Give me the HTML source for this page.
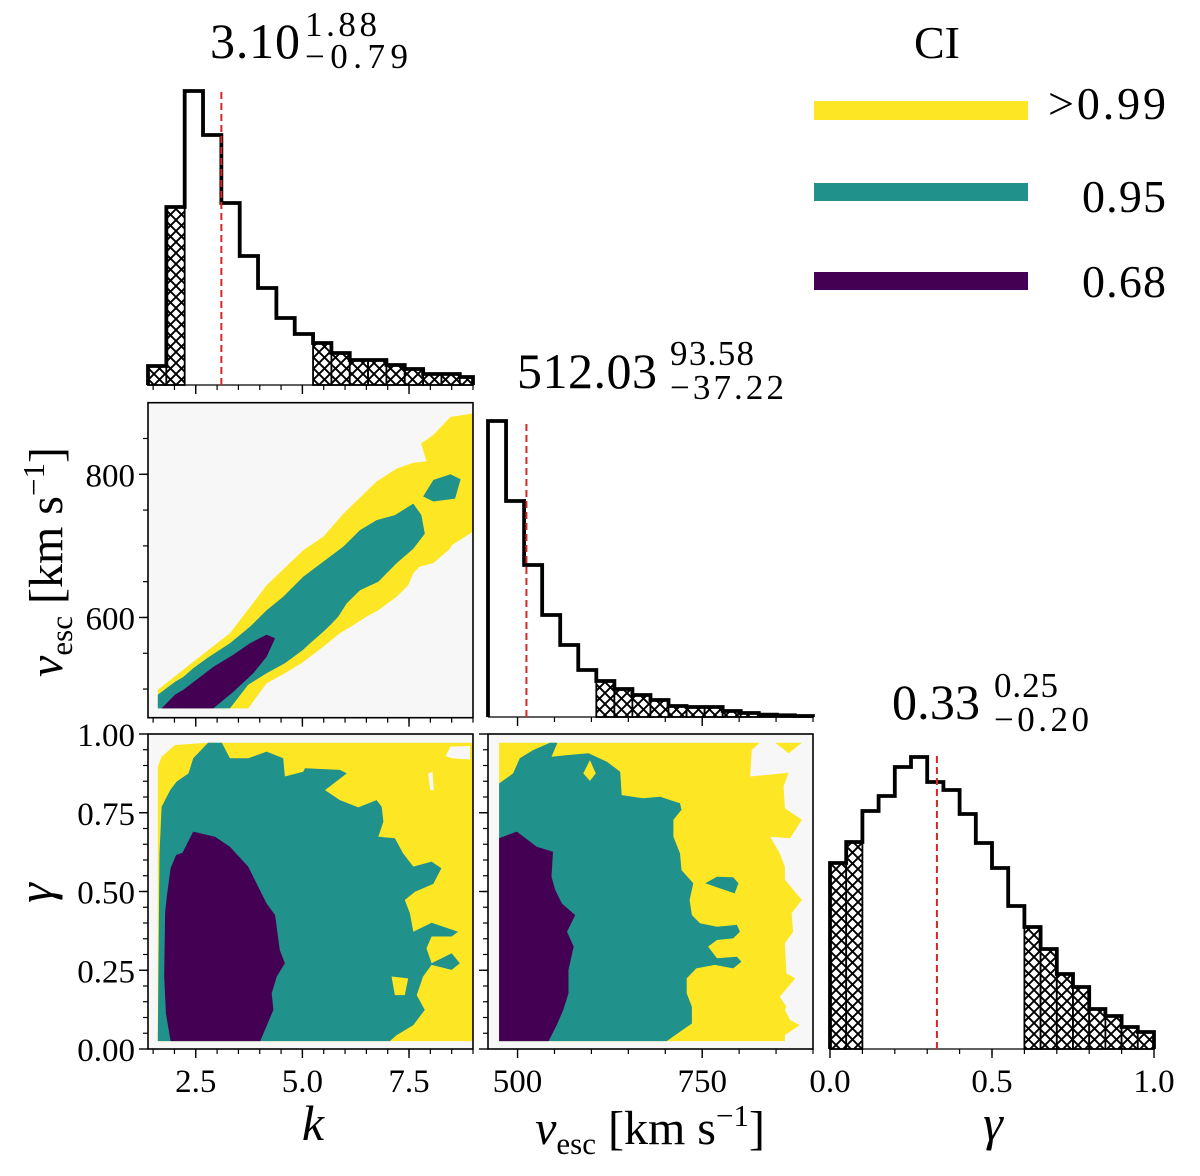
<!DOCTYPE html>
<html><head><meta charset="utf-8"><style>
html,body{margin:0;padding:0;background:#fff;}
svg{display:block;font-family:"Liberation Serif",serif;}
</style></head><body>
<svg id="fig" width="1200" height="1176" viewBox="0 0 1200 1176" xmlns="http://www.w3.org/2000/svg">
<defs>
<pattern id="hatch" patternUnits="userSpaceOnUse" width="11" height="11">
<rect width="11" height="11" fill="#fff"/>
<path d="M0,0 L11,11 M11,0 L0,11 M-1,10 L1,12 M10,-1 L12,1" stroke="#000" stroke-width="1.9"/>
</pattern>
<clipPath id="clipVK"><rect x="148" y="402.7" width="325" height="315"/></clipPath>
<clipPath id="clipGK"><rect x="148" y="734" width="325" height="315"/></clipPath>
<clipPath id="clipGV"><rect x="488" y="734" width="325" height="315"/></clipPath>
</defs>
<g id="layer"></g>

<!-- titles -->
<g font-size="50">
<text x="210" y="58" textLength="90">3.10</text>
<text x="305" y="36" font-size="35" textLength="72">1.88</text>
<text x="305" y="68" font-size="35" textLength="103">−0.79</text>
</g>
<g font-size="50">
<text x="517" y="388" textLength="140">512.03</text>
<text x="670" y="365" font-size="35" textLength="84">93.58</text>
<text x="670" y="399" font-size="35" textLength="114">−37.22</text>
</g>
<g font-size="50">
<text x="892" y="719" textLength="88">0.33</text>
<text x="994" y="697" font-size="35" textLength="64">0.25</text>
<text x="994" y="731" font-size="35" textLength="95">−0.20</text>
</g>

<!-- legend -->
<g>
<text x="937" y="58" font-size="46" text-anchor="middle">CI</text>
<rect x="814" y="101" width="214" height="19" fill="#fde725"/>
<rect x="814" y="183" width="214" height="18" fill="#21918c"/>
<rect x="814" y="272" width="214" height="18" fill="#440154"/>
<text x="1048" y="119" font-size="46" textLength="118">&gt;0.99</text>
<text x="1082" y="212" font-size="46" textLength="84">0.95</text>
<text x="1082" y="297" font-size="46" textLength="84">0.68</text>
</g>

<!-- axis labels -->
<text transform="translate(62,562) rotate(-90)" text-anchor="middle" font-size="48"><tspan font-style="italic">v</tspan><tspan font-size="31" dy="10">esc</tspan><tspan dy="-10"> [km s</tspan><tspan font-size="31" dy="-18">−1</tspan><tspan dy="18">]</tspan></text>
<text transform="translate(52,893) rotate(-90)" text-anchor="middle" font-size="50" font-style="italic">γ</text>
<text x="313" y="1140" text-anchor="middle" font-size="50" font-style="italic">k</text>
<text x="650" y="1144" text-anchor="middle" font-size="48"><tspan font-style="italic">v</tspan><tspan font-size="31" dy="10">esc</tspan><tspan dy="-10"> [km s</tspan><tspan font-size="31" dy="-18">−1</tspan><tspan dy="18">]</tspan></text>
<text x="993" y="1140" text-anchor="middle" font-size="50" font-style="italic">γ</text>
</svg>
<script>
// ---------- data ----------
const kCounts = [19,178,294,250,182,129,97,67,51,42,32,25,25,20,16,11,11,8];
const kBinStart = 1.38, kBinWidth = 0.43;
const kMedian = 3.10, kLo = 0.79, kHi = 1.88;
const vCounts = [296,216,152,102,72,47,36,28,22,17,11,10,10,6,4,2.3,1.7,1];
const vBinStart = 460, vBinWidth = 24.44;
const vMedian = 512.03, vLo = 37.22, vHi = 93.58;
const gCounts = [186,207,238,253,282,292,267,259,235,206,181,143,122,100,75,62,40,33,22,17];
const gBinStart = 0, gBinWidth = 0.05;
const gMedian = 0.33, gLo = 0.20, gHi = 0.25;

const kTickLabels = ["2.5","5.0","7.5"];
const kMajor = [2.5,5.0,7.5];
const vTickLabels = ["500","750"];
const vMajor = [500,750];
const vYTickLabels = ["600","800"];
const vYMajor = [600,800];
const gYTickLabels = ["0.00","0.25","0.50","0.75","1.00"];
const gYMajor = [0,0.25,0.5,0.75,1.0];
const gXTickLabels = ["0.0","0.5","1.0"];
const gXMajor = [0,0.5,1.0];

// contour polygons (k, vesc)
const vkYellow = [[1.61,473],[1.61,499],[2.44,538],[3.30,578],[4.16,645],[5.02,694],[5.49,713],[5.96,745],[6.74,790],[7.21,808],[7.60,816],[7.91,818],[7.78,843],[8.07,855],[8.47,880],[9.0,885],[9.0,720],[8.50,701],[8.46,696],[8.07,676],[7.75,671],[7.60,662],[7.48,645],[7.21,629],[6.78,610],[6.50,601],[6.19,589],[5.88,578],[5.49,559],[5.18,545],[4.98,536],[4.59,522],[4.16,508],[3.73,473]];
const vkTeal = [[1.61,473],[1.61,492],[2.01,510],[2.21,517],[2.44,529],[2.76,543],[3.30,564],[3.77,587],[4.16,610],[4.55,629],[5.02,657],[5.49,678],[5.96,699],[6.35,722],[6.74,736],[7.17,743],[7.60,759],[7.79,743],[7.87,717],[7.60,696],[7.21,676],[6.78,650],[6.35,638],[6.04,620],[5.84,601],[5.65,589],[5.49,580],[5.18,564],[5.02,555],[4.59,536],[4.16,522],[3.73,506],[3.30,473]];
const vkTealIsland = [[7.83,769],[8.07,792],[8.47,800],[8.71,793],[8.58,766],[8.07,762]];
const vkPurple = [[1.70,473],[2.01,492],[2.21,499],[2.91,531],[3.38,548],[3.77,564],[4.16,576],[4.36,571],[4.16,545],[3.85,522],[3.38,496],[2.91,473]];
// (k, gamma)
const gkYellow = [[1.61,0.025],[1.61,0.896],[1.70,0.928],[2.01,0.965],[2.76,0.972],[9.0,0.972],[9.0,0.025]];
const gkHole1 = [[8.36,0.930],[8.47,0.960],[8.93,0.962],[8.93,0.919],[8.50,0.923]];
const gkHole2 = [[7.95,0.875],[8.05,0.880],[8.08,0.822],[8.00,0.822]];
const gkTeal = [[1.61,0.025],[1.65,0.621],[1.70,0.769],[1.90,0.822],[2.05,0.849],[2.33,0.875],[2.44,0.923],[2.79,0.972],[3.11,0.972],[3.30,0.923],[3.73,0.923],[4.16,0.944],[4.55,0.923],[4.59,0.865],[5.02,0.880],[5.06,0.891],[5.88,0.886],[6.04,0.875],[5.53,0.822],[5.88,0.790],[6.31,0.767],[6.74,0.790],[6.86,0.769],[6.90,0.722],[6.78,0.674],[7.17,0.669],[7.36,0.621],[7.60,0.579],[8.03,0.595],[8.26,0.574],[8.07,0.524],[7.64,0.499],[7.40,0.473],[7.52,0.431],[7.60,0.372],[8.03,0.401],[8.65,0.372],[8.50,0.357],[8.03,0.357],[7.91,0.320],[8.03,0.272],[8.50,0.304],[8.69,0.272],[8.50,0.251],[8.03,0.267],[7.83,0.230],[7.68,0.171],[7.87,0.124],[7.60,0.076],[7.21,0.044],[7.05,0.025]];
const gkYellowHole = [[7.09,0.230],[7.48,0.224],[7.40,0.171],[7.17,0.171]];
const gkPurple = [[1.91,0.025],[1.80,0.113],[1.76,0.230],[1.78,0.431],[1.82,0.484],[1.91,0.574],[2.04,0.616],[2.19,0.623],[2.44,0.690],[2.95,0.674],[3.30,0.642],[3.73,0.579],[4.16,0.462],[4.36,0.425],[4.47,0.314],[4.59,0.272],[4.40,0.230],[4.28,0.177],[4.32,0.124],[4.01,0.025]];
// (vesc, gamma)
const gvYellow = [[475,0.025],[475,0.972],[828,0.972],[817,0.949],[815,0.865],[867,0.877],[860,0.833],[862,0.764],[885,0.728],[869,0.669],[842,0.674],[855,0.621],[862,0.579],[862,0.537],[885,0.473],[871,0.431],[873,0.372],[862,0.335],[864,0.240],[876,0.224],[855,0.166],[864,0.134],[862,0.124],[869,0.092],[882,0.076],[862,0.044],[862,0.025]];
const gvYellow2 = [[849,0.972],[885,0.972],[867,0.939]];
const gvTeal = [[475,0.025],[475,0.843],[494,0.875],[503,0.923],[521,0.949],[544,0.972],[554,0.972],[546,0.928],[567,0.933],[596,0.939],[621,0.912],[639,0.880],[641,0.806],[670,0.796],[693,0.801],[720,0.780],[722,0.759],[711,0.728],[711,0.674],[720,0.621],[722,0.568],[738,0.526],[733,0.473],[736,0.425],[747,0.399],[770,0.388],[797,0.394],[801,0.372],[792,0.351],[770,0.346],[758,0.325],[770,0.288],[797,0.293],[803,0.277],[792,0.256],[767,0.267],[742,0.256],[729,0.224],[729,0.177],[736,0.134],[736,0.081],[720,0.055],[702,0.025]];
const gvYellowHole = [[589,0.875],[598,0.917],[606,0.875],[598,0.851]];
const gvTealIsland = [[754,0.526],[770,0.547],[792,0.545],[799,0.526],[794,0.494]];
const gvPurple = [[475,0.025],[475,0.669],[499,0.690],[526,0.642],[548,0.626],[546,0.547],[551,0.505],[560,0.462],[578,0.425],[567,0.372],[576,0.325],[569,0.251],[569,0.177],[562,0.124],[553,0.076],[542,0.025]];

// ---------- scales ----------
const kx = k => 148 + (k - 1.38) * (325 / 7.62);
const vx = v => 488 + (v - 460) * (325 / 440);
const vy = v => 717.7 - (v - 460) * (315 / 440);
const gy = g => 1049 - g * 315;
const gx = g => 830 + g * 324;
const hScale = 1.0;

const NS = "http://www.w3.org/2000/svg";
const layer = document.getElementById("layer");
function mk(tag, attrs, parent) {
  const e = document.createElementNS(NS, tag);
  for (const a in attrs) e.setAttribute(a, attrs[a]);
  (parent || layer).appendChild(e);
  return e;
}
function poly(pts, fx, fy, fill, clip, name) {
  const e = mk("polygon", {points: pts.map(p => fx(p[0]).toFixed(1) + "," + fy(p[1]).toFixed(1)).join(" "), fill: fill, "clip-path": "url(#" + clip + ")"});
  
  
}
function frame(x, y, w, h, name) {
  const bg = mk("rect", {x: x, y: y, width: w, height: h, fill: "#f7f7f7"});
  
  
}
function border(x, y, w, h, name) {
  const r = mk("rect", {x: x, y: y, width: w, height: h, fill: "none", stroke: "#000", "stroke-width": 1.6});
  
  
}
function xTicks(fx, majors, minors, ybase, labels, name) {
  minors.forEach(v => {
    const t = mk("line", {x1: fx(v), x2: fx(v), y1: ybase, y2: ybase + 5, stroke: "#000", "stroke-width": 1.2});
    
    
  });
  majors.forEach((v, i) => {
    const t = mk("line", {x1: fx(v), x2: fx(v), y1: ybase, y2: ybase + 9, stroke: "#000", "stroke-width": 1.4});
    
    
    if (labels) {
      const tx = mk("text", {x: fx(v), y: ybase + 43, "text-anchor": "middle", "font-size": 33});
      tx.textContent = labels[i];
      
      
    }
  });
}
function yTicks(fy, majors, minors, xbase, labels, name) {
  minors.forEach(v => {
    const t = mk("line", {x1: xbase, x2: xbase - 5, y1: fy(v), y2: fy(v), stroke: "#000", "stroke-width": 1.2});
    
    
  });
  majors.forEach((v, i) => {
    const t = mk("line", {x1: xbase, x2: xbase - 9, y1: fy(v), y2: fy(v), stroke: "#000", "stroke-width": 1.4});
    
    
    if (labels) {
      const tx = mk("text", {x: xbase - 13, y: fy(v) + 12, "text-anchor": "end", "font-size": 33});
      tx.textContent = labels[i];
      
      
    }
  });
}
function range(a, b, s) { const r = []; for (let v = a; v <= b + 1e-9; v += s) r.push(+v.toFixed(4)); return r; }

function hist(counts, start, width, fx, base, xmax, med, lo, hi, name) {
  const loC = med - lo, hiC = med + hi;
  let d = "";
  counts.forEach((c, i) => {
    const a = start + i * width, b = Math.min(start + (i + 1) * width, xmax);
    const x0 = fx(a), x1 = fx(b), y = base - c * hScale;
    if (b <= loC + 1e-9 || a >= hiC - 1e-9) {
      const r = mk("rect", {x: x0, y: y, width: x1 - x0, height: base - y, fill: "url(#hatch)", stroke: "#000", "stroke-width": 1.8});
      
      
    }
    d += (i === 0 ? "M" + x0 + "," + base + " L" + x0 + "," + y : " L" + x0 + "," + y) + " L" + x1 + "," + y;
    if (i === counts.length - 1) d += " L" + x1 + "," + base;
  });
  const p = mk("path", {d: d, fill: "none", stroke: "#000", "stroke-width": 3.8, "stroke-linejoin": "miter"});
  
  
  const sp = mk("line", {x1: fx(start), x2: fx(xmax), y1: base, y2: base, stroke: "#000", "stroke-width": 1.2});
  
  
  const m = mk("line", {x1: fx(med), x2: fx(med), y1: base, y2: base - 295, stroke: "#d62728", "stroke-width": 2, "stroke-dasharray": "7,4"});
  
  
}

hist(kCounts, kBinStart, kBinWidth, kx, 385, 9.0, kMedian, kLo, kHi, "k");
xTicks(kx, kMajor, range(1.5, 9.0, 0.5), 385, null, "k-hist");

frame(148, 402.7, 325, 315, "vesc-k");
poly(vkYellow, kx, vy, "#fde725", "clipVK", "vesc-k-contour-099");
poly(vkTeal, kx, vy, "#21918c", "clipVK", "vesc-k-contour-095");
poly(vkTealIsland, kx, vy, "#21918c", "clipVK", "vesc-k-contour-095-island");
poly(vkPurple, kx, vy, "#440154", "clipVK", "vesc-k-contour-068");
border(148, 402.7, 325, 315, "vesc-k");
yTicks(vy, vYMajor, range(500, 850, 50), 148, vYTickLabels, "vesc-y");
xTicks(kx, kMajor, range(1.5, 9.0, 0.5), 717.7, null, "vesc-k-x");

hist(vCounts, vBinStart, vBinWidth, vx, 717, 900, vMedian, vLo, vHi, "vesc");
xTicks(vx, vMajor, range(550, 900, 50), 717, null, "vesc-hist");

frame(148, 734, 325, 315, "gamma-k");
poly(gkYellow, kx, gy, "#fde725", "clipGK", "gamma-k-contour-099");
poly(gkHole1, kx, gy, "#f7f7f7", "clipGK", "gamma-k-hole");
poly(gkHole2, kx, gy, "#f7f7f7", "clipGK", "gamma-k-hole");
poly(gkTeal, kx, gy, "#21918c", "clipGK", "gamma-k-contour-095");
poly(gkYellowHole, kx, gy, "#fde725", "clipGK", "gamma-k-contour-099-hole");
poly(gkPurple, kx, gy, "#440154", "clipGK", "gamma-k-contour-068");
border(148, 734, 325, 315, "gamma-k");
yTicks(gy, gYMajor, range(0.05, 0.95, 0.05), 148, gYTickLabels, "gamma-y");
xTicks(kx, kMajor, range(1.5, 9.0, 0.5), 1049, kTickLabels, "k-x");

frame(488, 734, 325, 315, "gamma-vesc");
poly(gvYellow, vx, gy, "#fde725", "clipGV", "gamma-vesc-contour-099");
poly(gvYellow2, vx, gy, "#fde725", "clipGV", "gamma-vesc-contour-099-piece");
poly(gvTeal, vx, gy, "#21918c", "clipGV", "gamma-vesc-contour-095");
poly(gvYellowHole, vx, gy, "#fde725", "clipGV", "gamma-vesc-contour-099-hole");
poly(gvTealIsland, vx, gy, "#21918c", "clipGV", "gamma-vesc-contour-095-island");
poly(gvPurple, vx, gy, "#440154", "clipGV", "gamma-vesc-contour-068");
border(488, 734, 325, 315, "gamma-vesc");
yTicks(gy, gYMajor, range(0.05, 0.95, 0.05), 488, null, "gamma-vesc-y");
xTicks(vx, vMajor, range(550, 900, 50), 1049, vTickLabels, "vesc-x");

hist(gCounts, gBinStart, gBinWidth, gx, 1049, 1.0, gMedian, gLo, gHi, "gamma");
xTicks(gx, gXMajor, range(0.1, 0.9, 0.1), 1049, gXTickLabels, "gamma-x");
</script>
</body></html>
